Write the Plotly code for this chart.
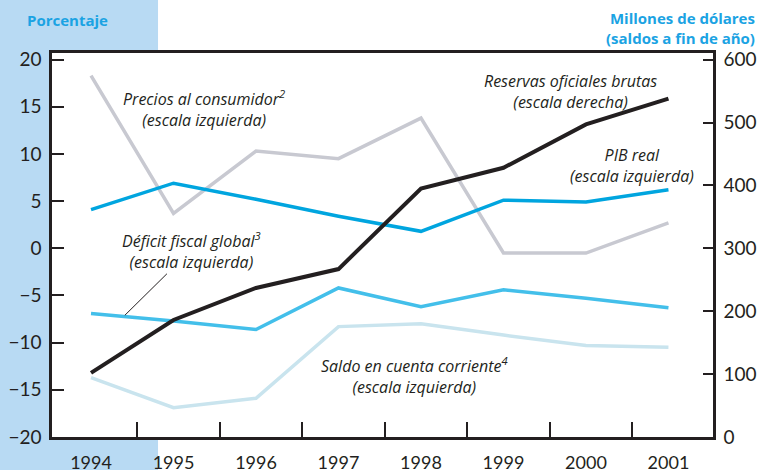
import plotly.graph_objects as go

years = [1994, 1995, 1996, 1997, 1998, 1999, 2000, 2001]
precios = [18.3, 3.7, 10.3, 9.5, 13.8, -0.5, -0.5, 2.7]
pib = [4.1, 6.9, 5.2, 3.4, 1.8, 5.1, 4.9, 6.2]
deficit = [-6.9, -7.7, -8.6, -4.2, -6.2, -4.4, -5.3, -6.3]
saldo = [-13.7, -16.9, -15.9, -8.3, -8.0, -9.2, -10.3, -10.5]
reservas = [102, 186, 237, 267, 395, 428, 497, 538]

left_ticks = [-20, -15, -10, -5, 0, 5, 10, 15, 20]
right_ticks = [0, 100, 200, 300, 400, 500, 600]
minor_ticks = [y + 0.56 for y in years[:-1]]

FONT = "Lato"
AFONT = "Open Sans"
TXT = "#231f20"
BLUE_T = "#1ba3e3"

fig = go.Figure()
fig.add_trace(go.Scatter(x=years, y=saldo, mode="lines",
                         line=dict(color="#c9e4ee", width=3.5), hoverinfo="skip"))
fig.add_trace(go.Scatter(x=years, y=precios, mode="lines",
                         line=dict(color="#c8c9d1", width=3.5), hoverinfo="skip"))
fig.add_trace(go.Scatter(x=years, y=deficit, mode="lines",
                         line=dict(color="#43bfea", width=3.5), hoverinfo="skip"))
fig.add_trace(go.Scatter(x=years, y=pib, mode="lines",
                         line=dict(color="#00a5df", width=3.5), hoverinfo="skip"))
fig.add_trace(go.Scatter(x=years, y=reservas, mode="lines", yaxis="y2",
                         line=dict(color="#231f20", width=4), hoverinfo="skip"))

fig.update_layout(
    width=763, height=470,
    margin=dict(l=52, r=50, t=53, b=33, autoexpand=False),
    paper_bgcolor="white", plot_bgcolor="white",
    showlegend=False,
    font=dict(family=FONT, color=TXT),
    xaxis=dict(range=[1993.527, 2001.54], tickvals=years, ticks="inside", ticklen=0,
               showline=True, linecolor=TXT, linewidth=2.5, mirror=True,
               showgrid=False, zeroline=False, automargin=False,
               tickfont=dict(size=18, color=TXT), ticklabelstandoff=8,
               minor=dict(tickmode="array", tickvals=minor_ticks, ticks="inside",
                          ticklen=15, tickwidth=1.5, tickcolor=TXT, showgrid=False)),
    yaxis=dict(range=[-20, 20.7], tickvals=left_ticks, ticks="inside", ticklen=12,
               tickwidth=1.5, tickcolor=TXT, automargin=False,
               showline=True, linecolor=TXT, linewidth=2.5,
               showgrid=False, zeroline=False,
               tickfont=dict(size=19, color=TXT), ticklabelstandoff=4),
    yaxis2=dict(range=[0, 610.5], tickvals=right_ticks, overlaying="y", side="right",
                ticks="inside", ticklen=10, tickwidth=1.5, tickcolor=TXT,
                showline=True, linecolor=TXT, linewidth=2.5, automargin=False,
                showgrid=False, zeroline=False,
                tickfont=dict(size=19, color=TXT), ticklabelstandoff=4),
)

# background sky panel on the left and white plot area
fig.add_shape(type="rect", xref="paper", yref="paper", x0=-0.0787, x1=0.1604,
              y0=-0.09, y1=1.14, line=dict(width=0), fillcolor="#b8daf3", layer="below")
fig.add_shape(type="rect", xref="paper", yref="paper", x0=0, x1=1, y0=0, y1=1,
              line=dict(width=0), fillcolor="white", layer="below")

# leader line for Déficit label
fig.add_shape(type="line", x0=1994.92, y0=-2.7, x1=1994.41, y1=-7.1,
              line=dict(color=TXT, width=1))

def lab(x, y, text, yref="y"):
    fig.add_annotation(x=x, y=y, xref="x", yref=yref, text=text, showarrow=False,
                       xanchor="center", yanchor="middle",
                       font=dict(size=16, color=TXT, family=AFONT), align="center")

lab(1995.37, 14.77, "<i>Precios al consumidor<sup>2</sup><br>(escala izquierda)</i>")
lab(1999.81, 550, "<i>Reservas oficiales brutas<br>(escala derecha)</i>", yref="y2")
lab(2000.56, 8.76, "<i>PIB real<br>(escala izquierda)</i>")
lab(1995.22, -0.21, "<i>Déficit fiscal global<sup>3</sup><br>(escala izquierda)</i>")
lab(1997.92, -13.45, "<i>Saldo en cuenta corriente<sup>4</sup><br>(escala izquierda)</i>")

fig.add_annotation(xref="paper", yref="paper", x=-0.0408, y=1.086, xanchor="left",
                   yanchor="middle", showarrow=False, text="<b>Porcentaje</b>",
                   font=dict(size=15, color=BLUE_T, family=AFONT))
fig.add_annotation(xref="paper", yref="paper", x=1.0666, y=1.066, xanchor="right",
                   yanchor="middle", showarrow=False, align="right",
                   text="<b>Millones de dólares<br>(saldos a fin de año)</b>",
                   font=dict(size=15, color=BLUE_T, family=AFONT))

fig.write_html("out.html", config={"displayModeBar": False},
               post_script="document.body.style.margin='0';document.body.style.overflow='hidden';")
